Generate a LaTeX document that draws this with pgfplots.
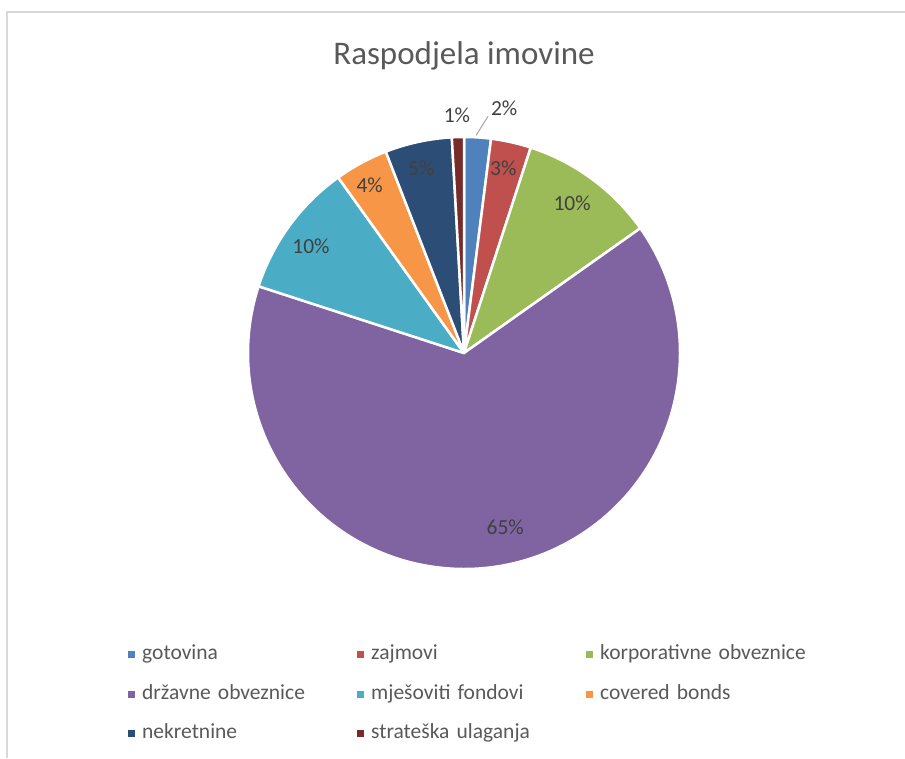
\documentclass[border=0pt]{standalone}
\usepackage{pgfplots}
\pgfplotsset{compat=1.18}
\usepackage{pgfplotstable}
\usepackage{fontspec}
\setmainfont{Carlito}

\definecolor{c1}{HTML}{4F81BD}
\definecolor{c2}{HTML}{C0504D}
\definecolor{c3}{HTML}{9BBB59}
\definecolor{c4}{HTML}{8064A2}
\definecolor{c5}{HTML}{4BACC6}
\definecolor{c6}{HTML}{F79646}
\definecolor{c7}{HTML}{2C4D75}
\definecolor{c8}{HTML}{772C2A}
\definecolor{txt}{HTML}{595959}
\definecolor{lbl}{HTML}{404040}
\definecolor{framec}{HTML}{D9D9D9}

% share (%), label angle, label distance (fraction of radius), colour
\pgfplotstableread[col sep=comma]{
name,value,lang,lrad,col
gotovina,2.0,80.7,1.15,c1
zajmovi,3.0,78,0.875,c2
korporativne obveznice,10.2,54.2,0.856,c3
državne obveznice,64.8,-76.7,0.83,c4
mješoviti fondovi,10.1,145,0.865,c5
covered bonds,4.0,119.4,0.89,c6
nekretnine,5.0,103,0.88,c7
strateška ulaganja,0.9,91.7,1.10,c8
}\piedata

\tikzset{lab/.style={font=\fontsize{21.5}{25}\selectfont, text=lbl}}

\begin{document}
\begin{tikzpicture}
\path[use as bounding box] (0,0) rectangle (905pt,758pt);
\draw[framec, line width=2pt] (7pt,0) -- (7pt,746pt) -- (905pt,746pt);
\begin{axis}[
    at={(464pt,405pt)}, anchor=center,
    scale only axis, width=432pt, height=432pt,
    xmin=-1, xmax=1, ymin=-1, ymax=1,
    hide axis, clip=false,
    title={Raspodjela imovine},
    title style={at={(0.5,1.175)}, anchor=center, font=\fontsize{33}{40}\selectfont, text=txt},
    legend columns=3,
    legend cell align=left,
    legend image code/.code={\fill[#1] (0pt,-3.5pt) rectangle (7pt,3.5pt);},
    legend style={at={(-0.2778,-0.1748)}, anchor=north west, draw=none, fill=none,
        inner sep=0pt, row sep=19.5pt, font=\fontsize{21.5}{25}\selectfont, text=txt,
        nodes={inner sep=0pt, text height=15pt, text depth=5pt},
        /tikz/every odd column/.append style={column sep=7pt},
        /tikz/every even column/.append style={text width=215pt, align=left}},
]
\pgfmathsetmacro\start{90}
\pgfplotsforeachungrouped \i in {0,...,7}{
    \pgfplotstablegetelem{\i}{value}\of\piedata \let\v\pgfplotsretval
    \pgfplotstablegetelem{\i}{lang}\of\piedata \let\la\pgfplotsretval
    \pgfplotstablegetelem{\i}{lrad}\of\piedata \let\lr\pgfplotsretval
    \pgfplotstablegetelem{\i}{col}\of\piedata \let\c\pgfplotsretval
    \pgfmathsetmacro\stop{\start-3.6*\v}
    \pgfmathsetmacro\rr{216*\lr}
    \pgfmathtruncatemacro\pct{round(\v)}
    \edef\temp{\noexpand\filldraw[fill=\c, draw=white, line width=2.5pt, line join=round]
        (axis cs:0,0) -- ++(\start:216pt) arc[start angle=\start, end angle=\stop, radius=216pt] -- cycle;
        \noexpand\path (axis cs:0,0) ++(\la:\rr pt) node[lab] {\pct\noexpand\%};}
    \temp
    \global\let\start\stop
}
% leader line of the small label
\path (axis cs:0,0) ++(86.8:218pt) coordinate (l1);
\path (axis cs:0,0) ++(84.2:238pt) coordinate (l2);
\draw[color=black!35, line width=1pt] (l1) -- (l2);

\addlegendimage{fill=c1, draw=none}\addlegendentry{gotovina}
\addlegendimage{fill=c2, draw=none}\addlegendentry{zajmovi}
\addlegendimage{fill=c3, draw=none}\addlegendentry{korporativne obveznice}
\addlegendimage{fill=c4, draw=none}\addlegendentry{državne obveznice}
\addlegendimage{fill=c5, draw=none}\addlegendentry{mješoviti fondovi}
\addlegendimage{fill=c6, draw=none}\addlegendentry{covered bonds}
\addlegendimage{fill=c7, draw=none}\addlegendentry{nekretnine}
\addlegendimage{fill=c8, draw=none}\addlegendentry{strateška ulaganja}
\end{axis}
\end{tikzpicture}
\end{document}
